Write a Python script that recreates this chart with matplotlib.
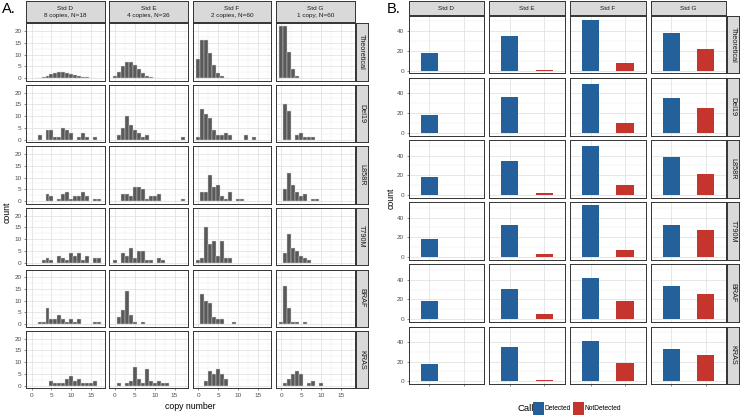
import numpy as np
import matplotlib.pyplot as plt
from matplotlib.patches import Rectangle

plt.rcParams['font.family'] = ['Liberation Sans', 'DejaVu Sans']

W, H = 740, 415

### data, panel A (counts per copy-number bin, k = 0..18)
std_names = ['Std D', 'Std E', 'Std F', 'Std G']
std_titles = ['Std D\n8 copies, N=18', 'Std E\n4 copies, N=36',
              'Std F\n2 copies, N=60', 'Std G\n1 copy, N=60']
assays = ['Theoretical', 'Del19', 'L858R', 'T790M', 'BRAF', 'KRAS']
copy_bins = np.arange(19)

hist_theoretical = [
    [0, 0.05, 0.2, 0.5, 1.0, 1.7, 2.2, 2.5, 2.5, 2.2, 1.8, 1.3, 0.9, 0.5, 0.3, 0.2, 0.1, 0, 0],
    [0.7, 2.6, 5.3, 7.0, 7.0, 5.6, 3.7, 2.1, 1.1, 0.5, 0.2, 0.1, 0, 0, 0, 0, 0, 0, 0],
    [8.1, 16.2, 16.2, 10.8, 5.4, 2.2, 0.7, 0.2, 0, 0, 0, 0, 0, 0, 0, 0, 0, 0, 0],
    [22.1, 22.1, 11.0, 3.7, 0.9, 0.2, 0, 0, 0, 0, 0, 0, 0, 0, 0, 0, 0, 0, 0],
]
hist_del19 = [
    [0, 0, 2, 0, 4, 4, 1, 1, 5, 4, 3, 0, 1, 3, 1, 0, 1, 0, 0],
    [0, 2, 5, 10, 6, 4, 3, 1, 2, 0, 0, 0, 0, 0, 0, 0, 0, 1, 0],
    [1, 13, 11, 9, 4, 2, 2, 3, 2, 0, 0, 0, 2, 0, 1, 0, 0, 0, 0],
    [0, 15, 12, 0, 2, 3, 1, 1, 1, 0, 0, 0, 0, 0, 0, 0, 0, 0, 0],
]
hist_l858r = [
    [0, 0, 0, 0, 3, 2, 0, 1, 3, 4, 1, 2, 2, 4, 2, 0, 1, 1, 0],
    [0, 0, 3, 3, 2, 6, 6, 5, 1, 2, 2, 3, 0, 0, 0, 0, 0, 1, 0],
    [0, 4, 4, 11, 6, 7, 2, 1, 4, 0, 1, 1, 0, 0, 0, 0, 0, 0, 0],
    [0, 5, 12, 7, 4, 2, 3, 0, 1, 1, 0, 0, 0, 0, 0, 0, 0, 0, 0],
]
hist_t790m = [
    [0, 0, 0, 1, 2, 1, 0, 3, 2, 1, 4, 3, 4, 1, 3, 0, 2, 2, 0],
    [1, 0, 4, 3, 6, 2, 5, 5, 1, 1, 0, 2, 1, 0, 0, 0, 0, 0, 0],
    [1, 2, 15, 8, 9, 3, 9, 2, 2, 0, 0, 0, 0, 0, 0, 0, 0, 0, 0],
    [0, 4, 12, 6, 5, 3, 2, 1, 0, 0, 0, 0, 0, 0, 0, 0, 0, 0, 0],
]
hist_braf = [
    [0, 0, 1, 1, 7, 2, 2, 4, 2, 1, 2, 1, 2, 0, 0, 0, 1, 1, 0],
    [0, 3, 6, 14, 4, 1, 0, 1, 0, 0, 0, 0, 0, 0, 0, 0, 0, 0, 0],
    [0, 13, 10, 9, 3, 2, 2, 0, 0, 1, 0, 0, 0, 0, 0, 0, 0, 0, 0],
    [1, 16, 7, 1, 1, 0, 1, 0, 0, 0, 0, 0, 0, 0, 0, 0, 0, 0, 0],
]
hist_kras = [
    [0, 0, 0, 0, 0, 2, 1, 1, 1, 3, 4, 2, 3, 1, 1, 1, 2, 0, 0],
    [0, 1, 0, 1, 2, 8, 3, 1, 7, 2, 1, 2, 1, 1, 0, 0, 0, 0, 0],
    [0, 0, 2, 6, 5, 7, 5, 3, 0, 0, 0, 0, 0, 0, 0, 0, 0, 0, 0],
    [0, 1, 3, 5, 6, 5, 0, 1, 2, 0, 1, 0, 0, 0, 0, 0, 0, 0, 0],
]
hists = [hist_theoretical, hist_del19, hist_l858r, hist_t790m, hist_braf, hist_kras]

### data, panel B (rows = assays, columns = Std D..G)
calls = ['Detected', 'NotDetected']
detected = [
    [18, 35.3, 51.9, 37.9],
    [18, 36, 50, 35],
    [18, 34, 50, 39],
    [18, 33, 53, 33],
    [18, 31, 42, 34],
    [18, 35, 41, 33],
]
not_detected = [
    [0, 0.7, 8.1, 22.1],
    [0, 0, 10, 25],
    [0, 2, 10, 21],
    [0, 3, 7, 27],
    [0, 5, 18, 26],
    [0, 1, 19, 27],
]
call_colors = ['#24609A', '#C6352D']

fig = plt.figure(figsize=(W / 100, H / 100), dpi=100)


def px_axes(x0, y0, x1, y1):
    return fig.add_axes([x0 / W, 1 - y1 / H, (x1 - x0) / W, (y1 - y0) / H])


def style_panel(ax):
    ax.set_facecolor('white')
    for s in ax.spines.values():
        s.set_color('#333333')
        s.set_linewidth(0.7)
    ax.set_axisbelow(True)
    ax.grid(which='major', color='#E0E0E0', lw=0.55)
    ax.grid(which='minor', color='#EDEDED', lw=0.35)
    ax.tick_params(which='both', length=0, labelsize=4.6, colors='#4D4D4D', pad=1.5)
    ax.tick_params(which='major', length=1.6, width=0.4, color='#333333')
    ax.tick_params(which='minor', length=0)


def strip(x0, y0, x1, y1, text, rot=0, size=4.6):
    sa = px_axes(x0, y0, x1, y1)
    sa.set_facecolor('#D9D9D9')
    sa.set_xticks([])
    sa.set_yticks([])
    for s in sa.spines.values():
        s.set_color('#333333')
        s.set_linewidth(0.7)
    sa.text(0.5, 0.5, text, rotation=rot, ha='center', va='center',
            fontsize=size, color='#1A1A1A', transform=sa.transAxes, linespacing=1.3)


### panel A
ax0, aw, agx = 26, 78.8, 4.5
ay0, ah, agy = 23.5, 57.2, 4.3
for c in range(4):
    xl = ax0 + c * (aw + agx)
    strip(xl, 1.5, xl + aw, 22.5, std_titles[c])
    for r in range(6):
        yt = ay0 + r * (ah + agy)
        ax = px_axes(xl, yt, xl + aw, yt + ah)
        style_panel(ax)
        counts = np.array(hists[r][c], dtype=float)
        keep = counts > 0
        ax.bar(copy_bins[keep], counts[keep], width=1, color='#595959',
               edgecolor='#DADADA', linewidth=0.3)
        ax.set_xlim(-1.4, 18.4)
        ax.set_ylim(-1.1, 23.2)
        ax.set_xticks([0, 5, 10, 15])
        ax.set_xticks([2.5, 7.5, 12.5, 17.5], minor=True)
        ax.set_yticks([0, 5, 10, 15, 20])
        ax.set_yticks([2.5, 7.5, 12.5, 17.5], minor=True)
        if c != 0:
            ax.tick_params(axis='y', which='major', length=0)
            ax.set_yticklabels([])
        if r != 5:
            ax.tick_params(axis='x', which='major', length=0)
            ax.set_xticklabels([])
for r in range(6):
    yt = ay0 + r * (ah + agy)
    xr = ax0 + 4 * aw + 3 * agx
    strip(xr + 0.8, yt, xr + 13, yt + ah, assays[r], rot=-90, size=5.2)

fig.text(7 / W, 1 - 212 / H, 'count', rotation=90, ha='center', va='center', fontsize=6.3)
fig.text(190 / W, 1 - 406 / H, 'copy number', ha='center', va='center', fontsize=6.3)
fig.text(2 / W, 1 - 9 / H, 'A.', ha='left', va='center', fontsize=10.5)

### panel B
bx0, bw, bgx = 408.5, 75.7, 5
by0, bh, bgy = 16, 57.5, 4.6
xpos = np.arange(len(calls))
for c in range(4):
    xl = bx0 + c * (bw + bgx)
    strip(xl, 1.5, xl + bw, 15, std_names[c])
    for r in range(6):
        yt = by0 + r * (bh + bgy)
        ax = px_axes(xl, yt, xl + bw, yt + bh)
        style_panel(ax)
        vals = [detected[r][c], not_detected[r][c]]
        ax.bar(xpos, vals, width=0.5, color=call_colors)
        ax.set_xlim(-0.6, 1.6)
        ax.set_ylim(-2.7, 55.5)
        ax.set_xticks(xpos)
        ax.set_xticklabels([])
        ax.set_yticks([0, 20, 40])
        ax.set_yticks([10, 30, 50], minor=True)
        if c != 0:
            ax.tick_params(axis='y', which='major', length=0)
            ax.set_yticklabels([])
        if r != 5:
            ax.tick_params(axis='x', which='major', length=0)
for r in range(6):
    yt = by0 + r * (bh + bgy)
    xr = bx0 + 4 * bw + 3 * bgx
    strip(xr + 0.8, yt, xr + 13, yt + bh, assays[r], rot=-90, size=5.2)

fig.text(391 / W, 1 - 198 / H, 'count', rotation=90, ha='center', va='center', fontsize=6.3)
fig.text(387 / W, 1 - 9 / H, 'B.', ha='left', va='center', fontsize=10.5)

# legend
fig.text(517 / W, 1 - 408 / H, 'Call', ha='left', va='center', fontsize=6.8)
key_x = [532.5, 572.5]
for i, name in enumerate(calls):
    fig.add_artist(Rectangle((key_x[i] / W, 1 - 415 / H), 11 / W, 13.5 / H,
                             transform=fig.transFigure, facecolor=call_colors[i],
                             edgecolor='none'))
    fig.text((key_x[i] + 12) / W, 1 - 408.5 / H, name, ha='left', va='center', fontsize=4.8)

fig.savefig('out.png', dpi=100)
